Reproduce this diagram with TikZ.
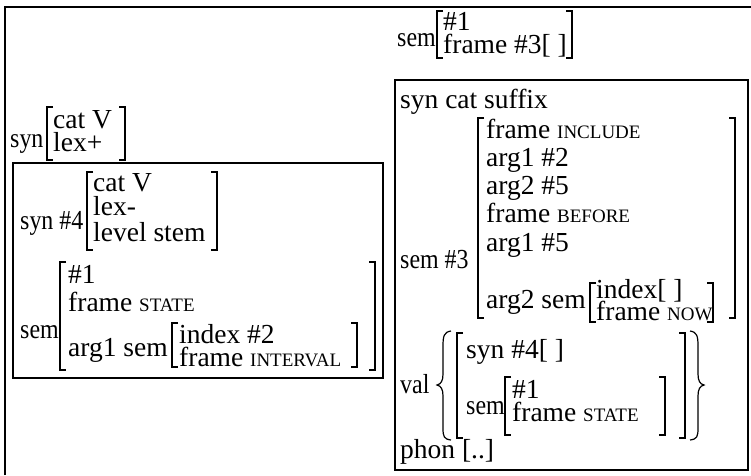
\documentclass[tikz,border=0pt]{standalone}
\usepackage{fontspec}
\usepackage{graphicx}
\setmainfont{Liberation Serif}
% small capitals, faked by a smaller size of the upright caps
\newcommand\smc[1]{{\fontsize{19}{19}\selectfont #1}}
% feature labels are set a little narrower than the values
\newcommand\lbl[1]{\scalebox{0.87}[1]{#1}}
\tikzset{
  fs/.style={anchor=base west, inner sep=0pt, font=\fontsize{27.5}{27.5}\selectfont},
  brk/.style={line width=1.2pt},
  heavy/.style={line width=2.6pt},
  mid/.style={line width=2pt},
  boxline/.style={line width=1.5pt},
}
% left and right square brackets: [style]{x}{top}{bottom}
\newcommand\LB[4][brk]{\draw[#1] ({#2+6},#3) -- (#2,#3) -- (#2,#4) -- ({#2+6},#4);}
\newcommand\RB[4][brk]{\draw[#1] ({#2-6},#3) -- (#2,#3) -- (#2,#4) -- ({#2-6},#4);}
\begin{document}
\begin{tikzpicture}[x=1pt,y=-1pt]
\useasboundingbox (0,0) rectangle (751,475);
% outer frame (top and left sides)
\draw[boxline] (5,475) -- (5,7) -- (751,7);

% ---- top right: sem of the whole word
\node[fs] (semtop) at (397,46) {\lbl{sem}};
\LB{437}{11}{58}
\node[fs] (semtopa) at (443,30) {\#1};
\node[fs] (semtopb) at (443,53) {frame \#3[ ]};
\RB{572}{11}{58}

% ---- syn of the whole word
\node[fs] (syntop) at (10,147) {\lbl{syn}};
\LB{47}{107}{160}
\node[fs] (syntopa) at (53,128) {cat V};
\node[fs] (syntopb) at (53,151) {lex+};
\RB{125}{107}{160}

% ---- left box: the stem
\draw[boxline] (13,163) rectangle (383,378);
\node[fs] (synst) at (20,229) {\lbl{syn \#4}};
\LB{87}{172}{250}
\node[fs] (synsta) at (93,191) {cat V};
\node[fs] (synstb) at (93,215) {lex-};
\node[fs] (synstc) at (93,241) {level stem};
\RB{217}{172}{250}

\node[fs] (semst) at (20,338) {\lbl{sem}};
\LB[mid]{60}{262}{370}
\node[fs] (semsta) at (68,283) {\#1};
\node[fs] (semstb) at (68,311) {frame \smc{STATE}};
\node[fs] (semstc) at (68,356) {arg1 sem};
\LB{172}{323}{367}
\node[fs] (semstd) at (179,343) {index \#2};
\node[fs] (semste) at (179,366) {frame \smc{INTERVAL}};
\RB{357}{323}{367}
\RB[mid]{375}{262}{370}

% ---- right box: the suffix
\draw[boxline] (395,80) rectangle (748,470);
\node[fs] (synsf) at (400,108) {syn cat suffix};
\node[fs] (semsf) at (400,268) {\lbl{sem \#3}};
\LB[heavy]{478}{118}{318}
\node[fs] (semsfa) at (486,138) {frame \smc{INCLUDE}};
\node[fs] (semsfb) at (486,166) {arg1 \#2};
\node[fs] (semsfc) at (486,194) {arg2 \#5};
\node[fs] (semsfd) at (486,222) {frame \smc{BEFORE}};
\node[fs] (semsfe) at (486,251) {arg1 \#5};
\node[fs] (semsff) at (486,308) {arg2 sem};
\LB{590}{283}{322}
\node[fs] (semsfg) at (596,298) {index[ ]};
\node[fs] (semsfh) at (596,320) {frame \smc{NOW}};
\RB{713}{283}{322}
\RB[heavy]{735}{118}{318}

% valence set
\node[fs] (valsf) at (400,393) {\lbl{val}};
\draw[brk] (451,331) .. controls (444,332) and (443,336) .. (443,346)
  -- (443,374) .. controls (443,381) and (441,384) .. (437,385)
  .. controls (441,386) and (443,389) .. (443,396)
  -- (443,428) .. controls (443,437) and (444,439) .. (451,440);
\LB{457}{333}{438}
\node[fs] (valsa) at (466,358) {syn \#4[ ]};
\node[fs] (valsb) at (466,414) {\lbl{sem}};
\LB{505}{377}{435}
\node[fs] (valsc) at (512,398) {\#1};
\node[fs] (valsd) at (512,421) {frame \smc{STATE}};
\RB{665}{377}{435}
\RB{685}{333}{438}
\draw[brk] (690,331) .. controls (697,332) and (698,336) .. (698,346)
  -- (698,374) .. controls (698,381) and (700,384) .. (704,385)
  .. controls (700,386) and (698,389) .. (698,396)
  -- (698,428) .. controls (698,437) and (697,439) .. (690,440);
\node[fs] (phonsf) at (400,458) {phon [..]};
\end{tikzpicture}
\end{document}
